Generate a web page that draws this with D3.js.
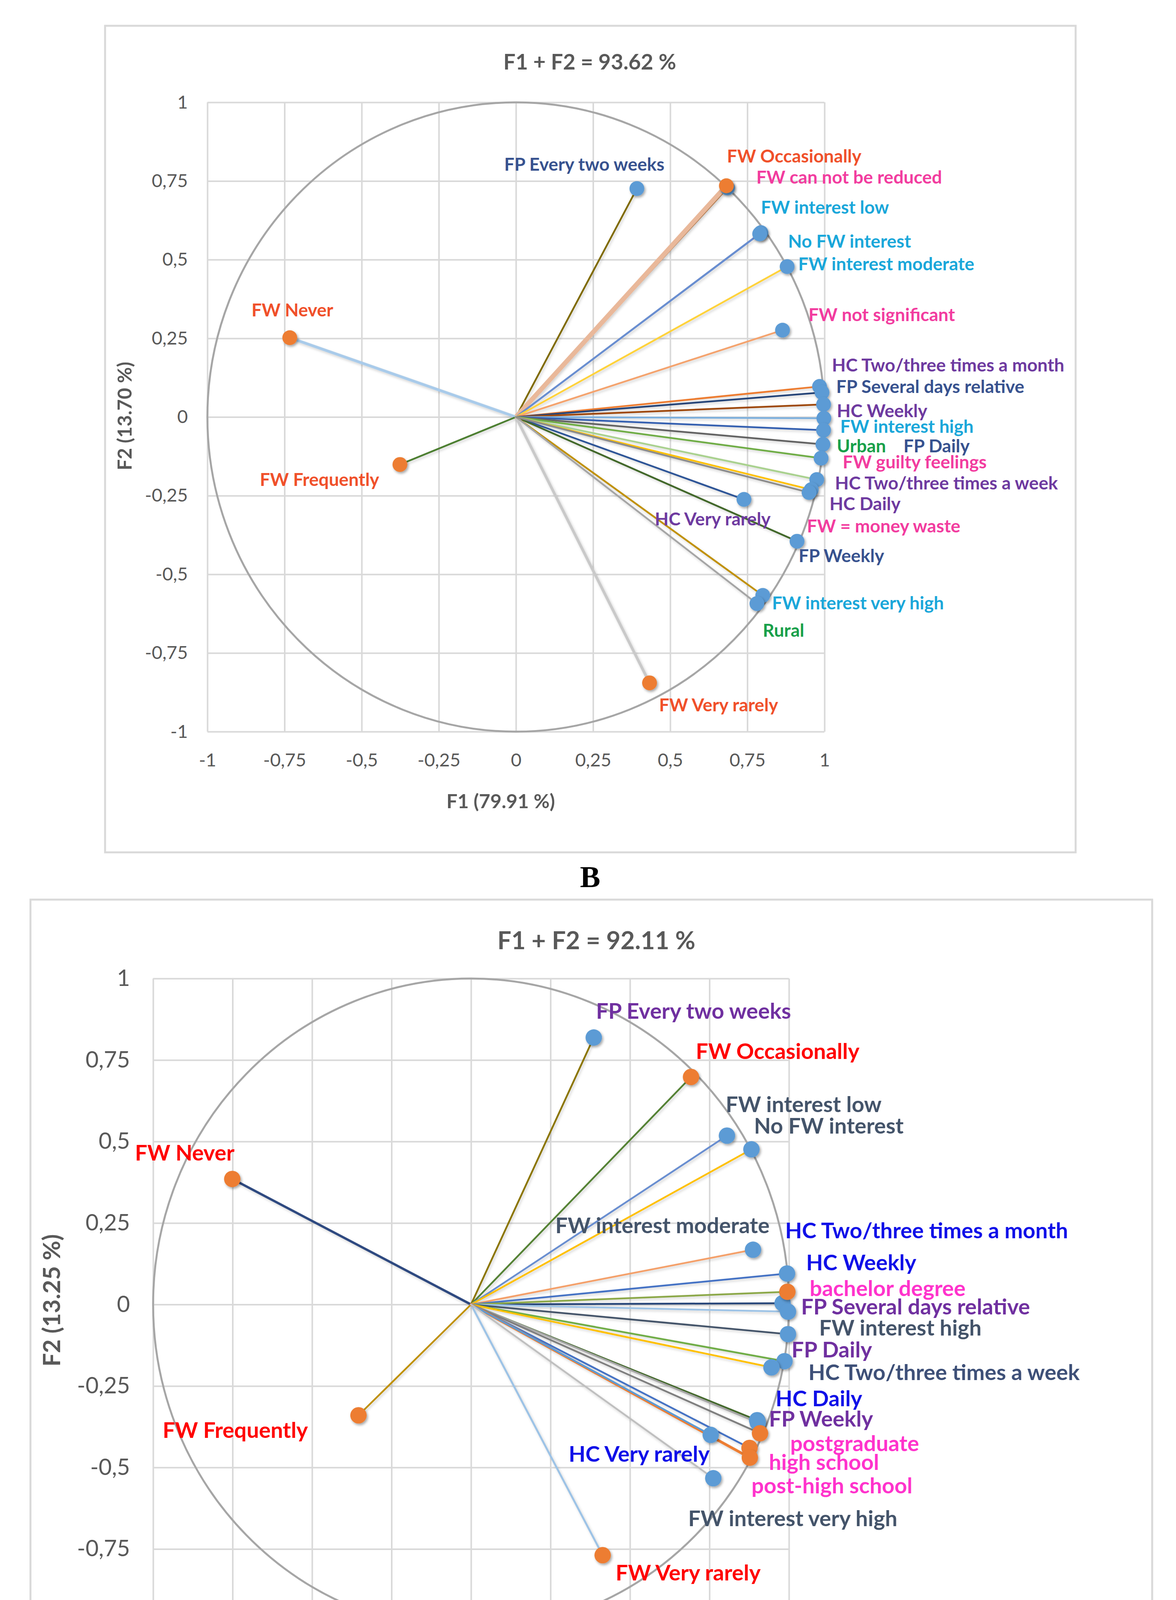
<!DOCTYPE html>
<html><head><meta charset="utf-8">
<script src="https://cdn.jsdelivr.net/npm/d3@7"></script>
<style>html,body{margin:0;padding:0;background:#fff;overflow:hidden;width:3011px;height:4550px}svg{display:block}</style>
</head><body>
<svg id="c" width="3011" height="4550" xmlns="http://www.w3.org/2000/svg"></svg>
<script>
// ---------------- DATA: chart B ----------------
const namesB = ["FP Every two weeks","FW can not be reduced","FW Occasionally","FW interest low","No FW interest","FW interest moderate","FW not significant","FW Never","FW Frequently","FW Very rarely","HC Very rarely","FP Weekly","FW interest very high","Rural","HC Two/three times a month","FP Several days relative","HC Weekly","FW interest high","Urban","FP Daily","FW guilty feelings","HC Two/three times a week","HC Daily","FW = money waste"];
const f1B = [0.392,0.686,0.682,0.794,0.790,0.879,0.864,-0.733,-0.376,0.433,0.739,0.911,0.800,0.781,0.984,0.992,0.997,0.998,0.997,0.995,0.989,0.975,0.957,0.950];
const f2B = [0.726,0.728,0.735,0.586,0.582,0.478,0.276,0.252,-0.151,-0.845,-0.262,-0.395,-0.567,-0.593,0.097,0.078,0.040,-0.004,-0.042,-0.087,-0.131,-0.199,-0.231,-0.240];
const typeB = ["act","act","sup","act","act","act","act","sup","sup","sup","act","act","act","act","act","act","act","act","act","act","act","act","act","act"];
const titleB = "F1 + F2 = 93.62 %";
const xTitleB = "F1 (79.91 %)";
const yTitleB = "F2 (13.70 %)";

// ---------------- DATA: chart C ----------------
const namesC = ["FP Every two weeks","FW Occasionally","FW interest low","No FW interest","FW interest moderate","FW Never","FW Frequently","FW Very rarely","HC Two/three times a month","HC Weekly","bachelor degree","FP Several days relative","FW interest high","FP Daily","HC Two/three times a week","HC Daily","FP Weekly","postgraduate","high school","post-high school","HC Very rarely","FW interest very high"];
const f1C = [0.386,0.692,0.805,0.882,0.887,-0.751,-0.354,0.414,0.994,0.980,0.995,0.997,0.997,0.986,0.945,0.900,0.902,0.909,0.876,0.877,0.754,0.762];
const f2C = [0.819,0.698,0.518,0.476,0.168,0.385,-0.340,-0.769,0.095,0.004,0.039,-0.022,-0.091,-0.174,-0.193,-0.355,-0.362,-0.395,-0.440,-0.470,-0.400,-0.533];
const typeC = ["act","sup","act","act","act","sup","sup","sup","act","act","sup","act","act","act","act","act","act","sup","sup","sup","act","act"];
const titleC = "F1 + F2 = 92.11 %";
const xTitleC = "F1 (78.86 %)";
const yTitleC = "F2 (13.25 %)";

const tickValues = [-1,-0.75,-0.5,-0.25,0,0.25,0.5,0.75,1];

// ---------------- STYLE / LAYOUT ----------------
const lineColB = {"FP Every two weeks":"#7F6A00","FW can not be reduced":"#B07A50","FW Occasionally":"#E9B89A","FW interest low":"#5A7FC8","No FW interest":"#698ED0","FW interest moderate":"#FFD23A","FW not significant":"#F4A36E","FW Never":"#A9CBEA","FW Frequently":"#4E7F32","FW Very rarely":"#C9C9C9","HC Very rarely":"#2F5597","FP Weekly":"#43682B","FW interest very high":"#C09000","Rural":"#A5A5A5","HC Two/three times a month":"#ED7D31","FP Several days relative":"#264478","HC Weekly":"#9E480E","FW interest high":"#7CAFDD","Urban":"#3560B0","FP Daily":"#636363","FW guilty feelings":"#70AD47","HC Two/three times a week":"#A9D18E","HC Daily":"#FFC000","FW = money waste":"#8C8C8C"};
const lineColC = {"FP Every two weeks":"#8B7500","FW Occasionally":"#548235","FW interest low":"#698ED0","No FW interest":"#FFC000","FW interest moderate":"#F4A06A","FW Never":"#2F4A80","FW Frequently":"#BF9000","FW Very rarely":"#9DC3E6","HC Two/three times a month":"#4472C4","HC Weekly":"#264478","bachelor degree":"#8CA848","FP Several days relative":"#9DC3E6","FW interest high":"#44546A","FP Daily":"#70AD47","HC Two/three times a week":"#FFC000","HC Daily":"#43682B","FP Weekly":"#A5A5A5","postgraduate":"#7F7F7F","high school":"#4472C4","post-high school":"#ED7D31","HC Very rarely":"#5B9BD5","FW interest very high":"#BFBFBF"};
const lineWB = {"FW Occasionally":12,"FW Never":7,"FW Very rarely":7};
const lineWC = {"FW Never":6,"FW Very rarely":5,"post-high school":7};

const labColB = {"FP Every two weeks":"#37528F","FW can not be reduced":"#F23C9F","FW Occasionally":"#F0502A","FW interest low":"#1AA7DA","No FW interest":"#1AA7DA","FW interest moderate":"#1AA7DA","FW not significant":"#F23C9F","FW Never":"#F0502A","FW Frequently":"#F0502A","FW Very rarely":"#F0502A","HC Very rarely":"#6E3AA0","FP Weekly":"#37528F","FW interest very high":"#1AA7DA","Rural":"#17A04A","HC Two/three times a month":"#6E3AA0","FP Several days relative":"#37528F","HC Weekly":"#6E3AA0","FW interest high":"#1AA7DA","Urban":"#17A04A","FP Daily":"#37528F","FW guilty feelings":"#F23C9F","HC Two/three times a week":"#6E3AA0","HC Daily":"#6E3AA0","FW = money waste":"#F23C9F"};
const labColC = {"FP Every two weeks":"#7030A0","FW Occasionally":"#FF0000","FW interest low":"#44546A","No FW interest":"#44546A","FW interest moderate":"#44546A","FW Never":"#FF0000","FW Frequently":"#FF0000","FW Very rarely":"#FF0000","HC Two/three times a month":"#1010E8","HC Weekly":"#1010E8","bachelor degree":"#FF33CC","FP Several days relative":"#7030A0","FW interest high":"#44546A","FP Daily":"#7030A0","HC Two/three times a week":"#3E5078","HC Daily":"#1010E8","FP Weekly":"#7030A0","postgraduate":"#FF33CC","high school":"#FF33CC","post-high school":"#FF33CC","HC Very rarely":"#1010E8","FW interest very high":"#44546A"};

// label anchors (left edge, vertical middle) in plot units
const labPosB = {"FP Every two weeks":[-0.038,0.805],"FW Occasionally":[0.684,0.830],"FW can not be reduced":[0.779,0.763],"FW interest low":[0.794,0.668],"No FW interest":[0.882,0.560],"FW interest moderate":[0.915,0.488],"FW not significant":[0.948,0.326],"FW Never":[-0.857,0.342],"HC Two/three times a month":[1.024,0.166],"FP Several days relative":[1.038,0.098],"HC Weekly":[1.040,0.021],"FW interest high":[1.051,-0.029],"Urban":[1.040,-0.091],"FP Daily":[1.256,-0.091],"FW guilty feelings":[1.059,-0.141],"FW Frequently":[-0.830,-0.198],"HC Two/three times a week":[1.034,-0.209],"HC Daily":[1.016,-0.274],"HC Very rarely":[0.450,-0.323],"FW = money waste":[0.943,-0.345],"FP Weekly":[0.916,-0.439],"FW interest very high":[0.830,-0.590],"Rural":[0.800,-0.677],"FW Very rarely":[0.464,-0.914]};
const labPosC = {"FP Every two weeks":[0.393,0.902],"FW Occasionally":[0.707,0.779],"FW interest low":[0.801,0.616],"No FW interest":[0.890,0.550],"FW Never":[-1.057,0.467],"FW interest moderate":[0.265,0.245],"HC Two/three times a month":[0.988,0.229],"HC Weekly":[1.054,0.131],"bachelor degree":[1.065,0.052],"FP Several days relative":[1.038,-0.005],"FW interest high":[1.095,-0.070],"FP Daily":[1.008,-0.137],"HC Two/three times a week":[1.061,-0.206],"HC Daily":[0.958,-0.286],"FP Weekly":[0.937,-0.349],"FW Frequently":[-0.970,-0.384],"postgraduate":[1.004,-0.424],"HC Very rarely":[0.307,-0.456],"high school":[0.937,-0.482],"post-high school":[0.882,-0.554],"FW interest very high":[0.683,-0.654],"FW Very rarely":[0.455,-0.821]};

const FONT = "Lato, 'Open Sans', sans-serif";
const svg = d3.select('#c');
svg.append('rect').attr('width',3011).attr('height',4550).attr('fill','#fff');
const defs = svg.append('defs');
const f = defs.append('filter').attr('id','sh').attr('x','-50%').attr('y','-50%').attr('width','200%').attr('height','200%');
f.append('feDropShadow').attr('dx',3).attr('dy',4).attr('stdDeviation',3).attr('flood-color','#000').attr('flood-opacity',0.35);
const fl = defs.append('filter').attr('id','shl').attr('x','-10%').attr('y','-10%').attr('width','120%').attr('height','120%');
fl.append('feDropShadow').attr('dx',3).attr('dy',4).attr('stdDeviation',3).attr('flood-color','#000').attr('flood-opacity',0.18);

const fmt = v => String(v).replace('.', ',');

function drawChart(c) {
  const g = svg.append('g');
  g.append('rect').attr('x',c.frame[0]).attr('y',c.frame[1])
    .attr('width',c.frame[2]-c.frame[0]).attr('height',c.frame[3]-c.frame[1])
    .attr('fill','#fff').attr('stroke','#D9D9D9').attr('stroke-width',5);
  const x = d3.scaleLinear().domain([-1,1]).range([c.px0,c.px1]);
  const y = d3.scaleLinear().domain([-1,1]).range([c.py1,c.py0]);

  const ya = g.append('g').attr('transform',`translate(${c.px0},0)`)
    .call(d3.axisLeft(y).tickValues(tickValues).tickFormat(fmt).tickSize(-(c.px1-c.px0)).tickPadding(c.yPad));
  const xa = g.append('g').attr('transform',`translate(0,${c.py1})`)
    .call(d3.axisBottom(x).tickValues(tickValues).tickFormat(fmt).tickSize(-(c.py1-c.py0)).tickPadding(c.xPad));
  [ya,xa].forEach(a => {
    a.select('.domain').remove();
    a.selectAll('line').attr('stroke','#D9D9D9').attr('stroke-width',4);
    a.selectAll('text').attr('fill','#595959').attr('font-family',FONT).attr('font-size',c.tickFs);
  });

  g.append('ellipse').attr('cx',x(0)).attr('cy',y(0))
    .attr('rx',x(1)-x(0)).attr('ry',y(0)-y(1))
    .attr('fill','none').attr('stroke','#A6A6A6').attr('stroke-width',5);

  const data = c.names.map((n,i)=>({name:n, f1:c.f1[i], f2:c.f2[i], type:c.type[i]}));
  g.append('g').attr('filter','url(#shl)').selectAll('line.s').data(data).join('line')
    .attr('x1',x(0)).attr('y1',y(0))
    .attr('x2',d=>x(d.f1)).attr('y2',d=>y(d.f2))
    .attr('stroke',d=>c.lineCol[d.name]).attr('stroke-width',d=>c.lineW[d.name]||4.5)
    .attr('stroke-linecap','round');

  const order = data.slice().sort((a,b)=> (a.type==='sup') - (b.type==='sup'));
  g.append('g').selectAll('circle').data(order).join('circle')
    .attr('cx',d=>x(d.f1)).attr('cy',d=>y(d.f2)).attr('r',c.r)
    .attr('fill',d=>d.type==='sup' ? '#ED7D31' : '#5B9BD5')
    .attr('filter','url(#sh)');

  g.append('g').selectAll('text').data(data).join('text')
    .attr('x',d=>x(c.labPos[d.name][0])).attr('y',d=>y(c.labPos[d.name][1]))
    .attr('dominant-baseline','central')
    .attr('font-family',FONT).attr('font-weight',700).attr('font-size',c.labFs)
    .attr('fill',d=>c.labCol[d.name]).text(d=>d.name);

  g.append('text').attr('x',c.titlePos[0]).attr('y',c.titlePos[1]).attr('text-anchor','middle')
    .attr('dominant-baseline','central').attr('font-family',FONT).attr('font-weight',700)
    .attr('font-size',c.titleFs).attr('fill','#595959').text(c.title);
  g.append('text').attr('x',c.xtPos[0]).attr('y',c.xtPos[1]).attr('text-anchor','middle')
    .attr('dominant-baseline','central').attr('font-family',FONT).attr('font-weight',700)
    .attr('font-size',c.axFs).attr('fill','#595959').text(c.xTitle);
  g.append('text').attr('transform',`translate(${c.ytPos[0]},${c.ytPos[1]}) rotate(-90)`).attr('text-anchor','middle')
    .attr('dominant-baseline','central').attr('font-family',FONT).attr('font-weight',700)
    .attr('font-size',c.axFs).attr('fill','#595959').text(c.yTitle);
}

drawChart({frame:[269,66,2754,2182], px0:531, px1:2111, py0:262, py1:1873,
  yPad:50, xPad:56, tickFs:47, r:19, labFs:46,
  names:namesB, f1:f1B, f2:f2B, type:typeB, lineCol:lineColB, lineW:lineWB, labCol:labColB, labPos:labPosB,
  title:titleB, xTitle:xTitleB, yTitle:yTitleB, titlePos:[1510,157], xtPos:[1282,2050], ytPos:[318,1065],
  titleFs:55, axFs:50});

drawChart({frame:[78,2303,2950,4424], px0:392, px1:2020, py0:2505, py1:4174,
  yPad:59, xPad:70, tickFs:58, r:21, labFs:56,
  names:namesC, f1:f1C, f2:f2C, type:typeC, lineCol:lineColC, lineW:lineWC, labCol:labColC, labPos:labPosC,
  title:titleC, xTitle:xTitleC, yTitle:yTitleC, titlePos:[1527,2405], xtPos:[1583,4362], ytPos:[130,3329],
  titleFs:63, axFs:61});

svg.append('text').attr('x',1511).attr('y',2244).attr('text-anchor','middle').attr('dominant-baseline','central')
  .attr('font-family',"'Liberation Serif', 'DejaVu Serif', serif").attr('font-weight',700).attr('font-size',78).attr('fill','#000').text('B');
svg.append('text').attr('x',1514).attr('y',4489).attr('text-anchor','middle').attr('dominant-baseline','central')
  .attr('font-family',"'Liberation Serif', 'DejaVu Serif', serif").attr('font-weight',700).attr('font-size',82).attr('fill','#000').text('C');
</script>
</body></html>
